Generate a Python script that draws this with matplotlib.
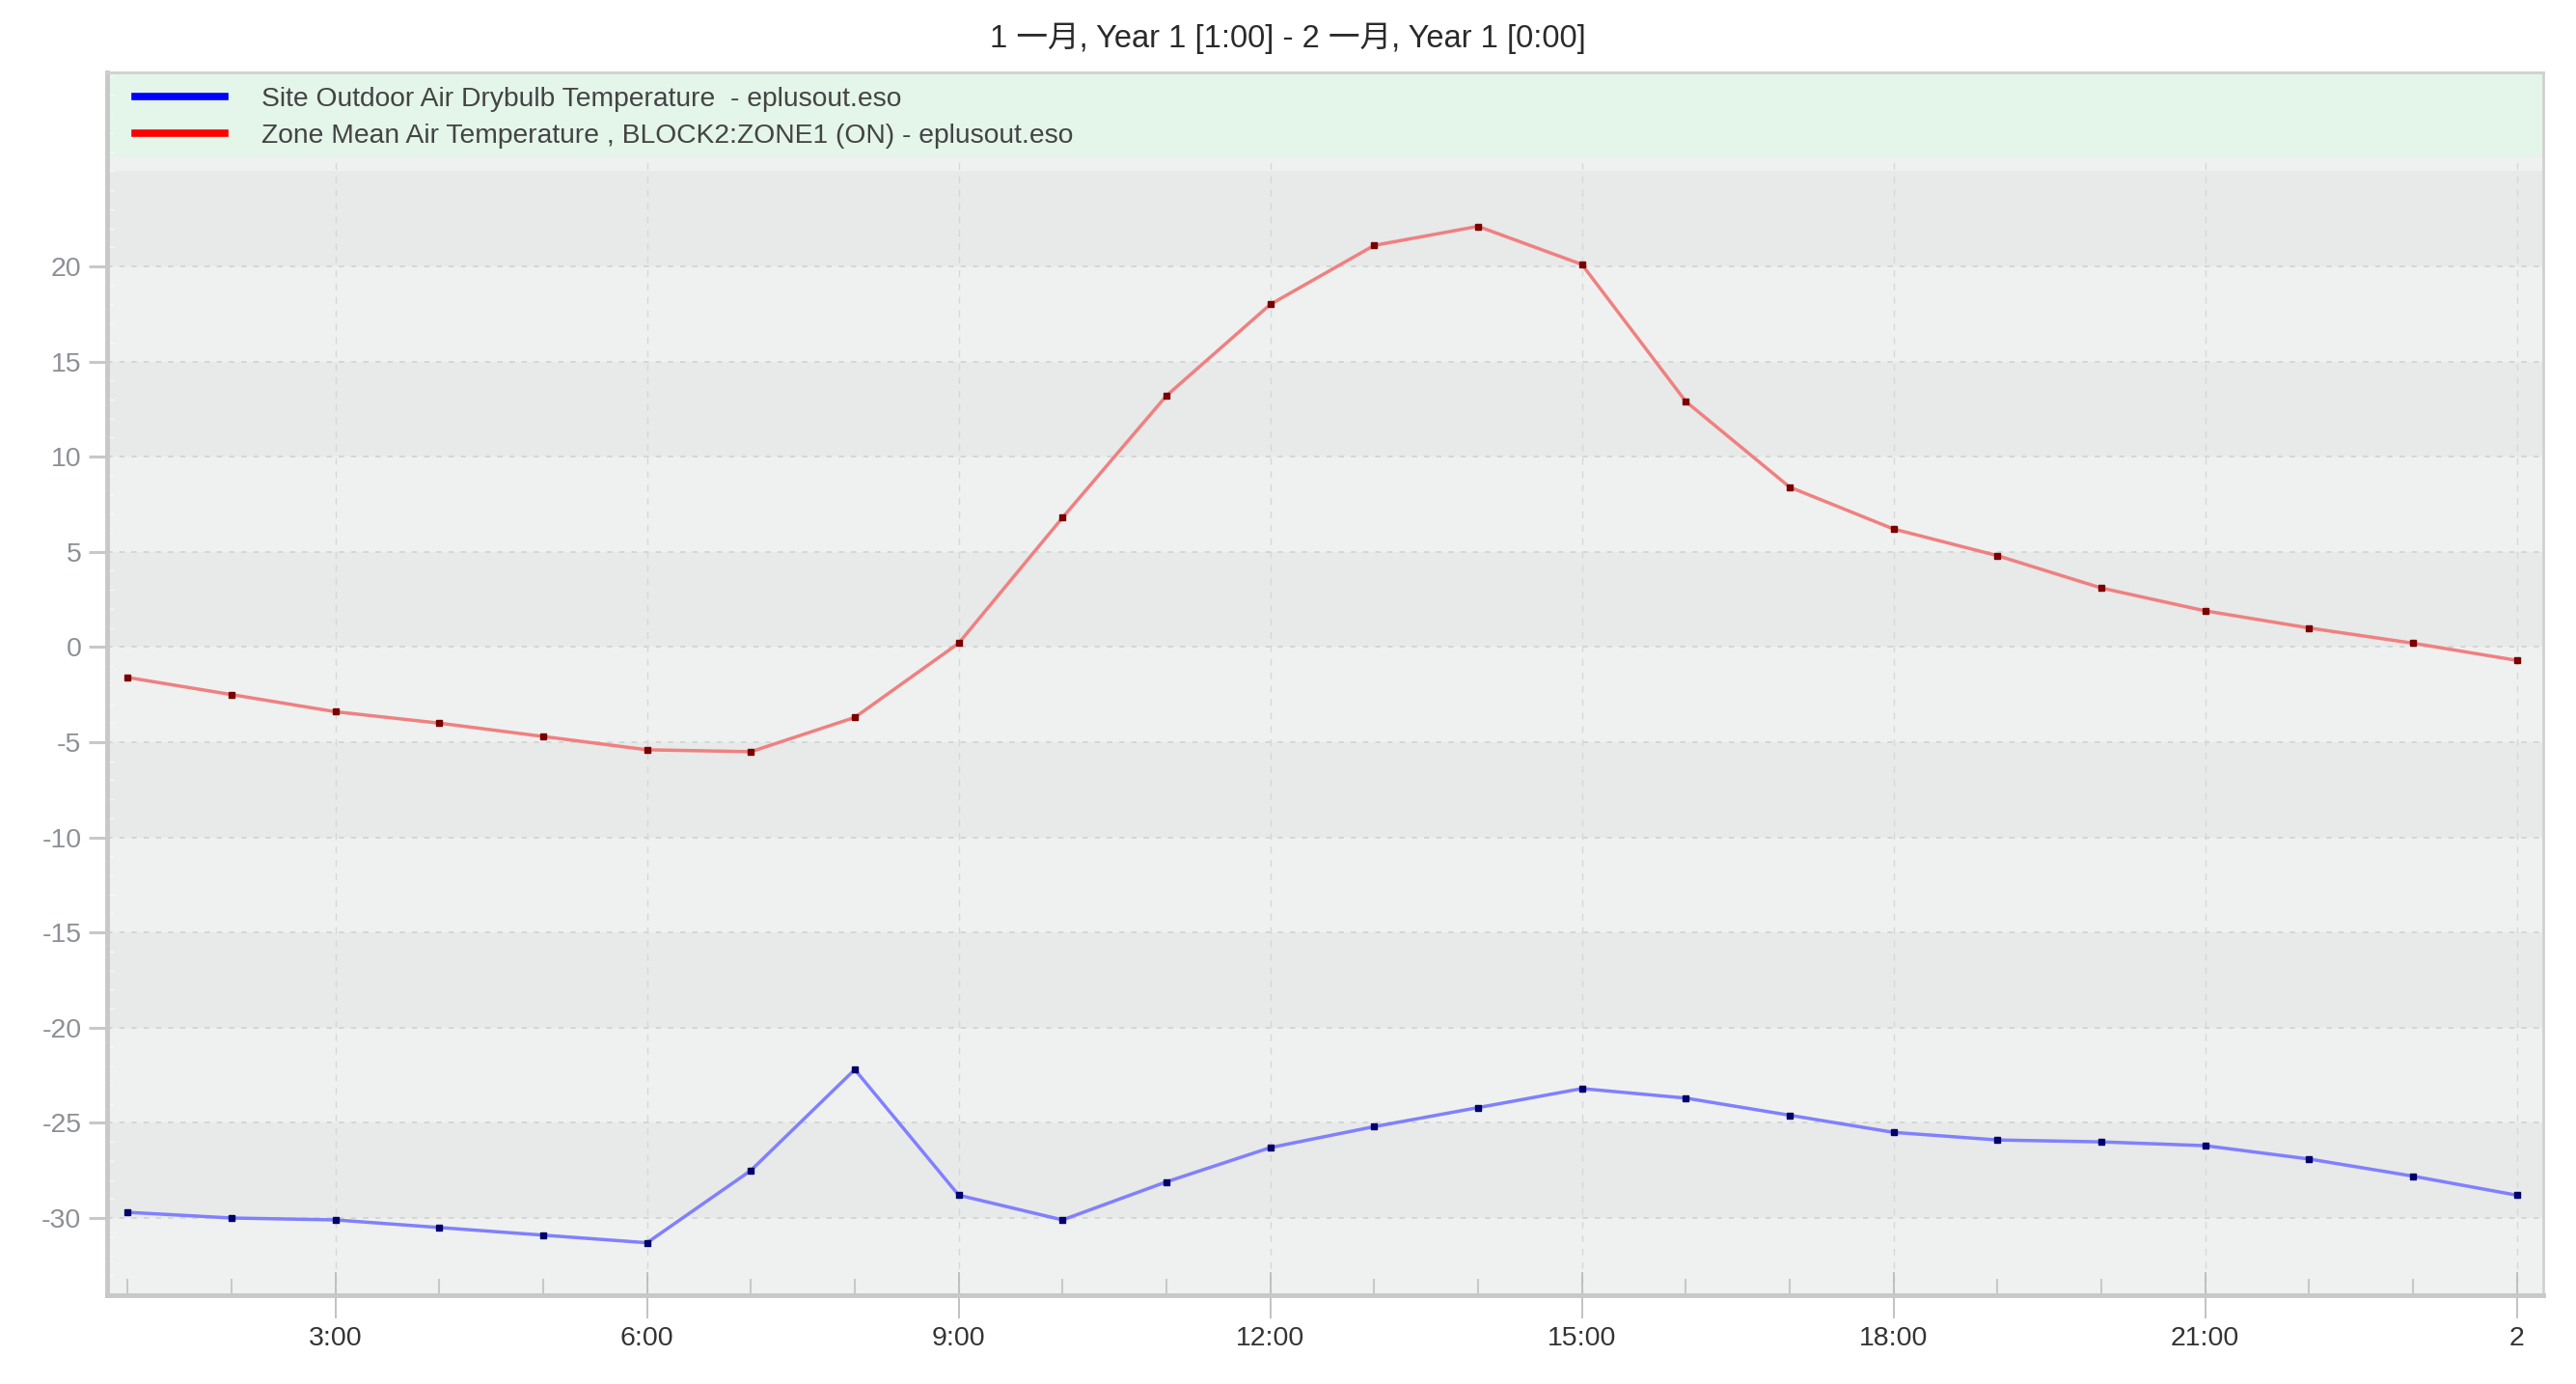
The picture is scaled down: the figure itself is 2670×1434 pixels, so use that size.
import matplotlib
matplotlib.use("Agg")
import matplotlib.pyplot as plt
from matplotlib.lines import Line2D
from matplotlib.ticker import MultipleLocator, FixedLocator

# hours 1..24 (24 == midnight of day 2)
hours = list(range(1, 25))
outdoor_temp = [-29.7, -30.0, -30.1, -30.5, -30.9, -31.3, -27.5, -22.2, -28.8, -30.1,
                -28.1, -26.3, -25.2, -24.2, -23.2, -23.7, -24.6, -25.5, -25.9, -26.0,
                -26.2, -26.9, -27.8, -28.8]
zone_temp = [-1.6, -2.5, -3.4, -4.0, -4.7, -5.4, -5.5, -3.7, 0.2, 6.8,
             13.2, 18.0, 21.1, 22.1, 20.1, 12.9, 8.4, 6.2, 4.8, 3.1,
             1.9, 1.0, 0.2, -0.7]
x_ticks = [3, 6, 9, 12, 15, 18, 21, 24]
x_labels = ["3:00", "6:00", "9:00", "12:00", "15:00", "18:00", "21:00", "2"]
y_ticks = [-30, -25, -20, -15, -10, -5, 0, 5, 10, 15, 20]
labels = ["Site Outdoor Air Drybulb Temperature  - eplusout.eso",
          "Zone Mean Air Temperature , BLOCK2:ZONE1 (ON) - eplusout.eso"]
title = "1 一月, Year 1 [1:00] - 2 一月, Year 1 [0:00]"

FONT = ["Liberation Sans Narrow", "Liberation Sans", "Noto Sans CJK SC"]
plt.rcParams["font.family"] = FONT

fig = plt.figure(figsize=(26.7, 14.34), dpi=100)
ax = fig.add_axes([0.0415, 0.0641, 0.9456, 0.8836])

y_lo, y_hi = -34.06, 30.19
legend_bottom = 25.8
ax.set_xlim(0.80, 24.25)
ax.set_ylim(y_lo, y_hi)

# alternating background bands
for k in range(-7, 5):
    color = "#e8e9e9" if k % 2 == 0 else "#eff1f0"
    ax.axhspan(k * 5, k * 5 + 5, color=color, lw=0, zorder=0)
ax.axhspan(25, legend_bottom, color="#eff1f0", lw=0, zorder=0)
ax.axhspan(legend_bottom, y_hi, color="#e4f5ea", lw=0, zorder=0)

# grid
for y in y_ticks:
    ax.axhline(y, color="#d2d4d4", lw=1.3, ls=(0, (3, 4)), zorder=1)
for x in x_ticks:
    ax.plot([x, x], [y_lo, legend_bottom], color="#d6d8d8", lw=1.0,
            ls=(0, (5, 5)), zorder=1)

ax.plot(hours, outdoor_temp, color="#8080ff", lw=2.5, zorder=3,
        marker="s", markersize=5, markerfacecolor="#00006a",
        markeredgecolor="#00006a")
ax.plot(hours, zone_temp, color="#f08080", lw=2.5, zorder=3,
        marker="s", markersize=5, markerfacecolor="#7a0000",
        markeredgecolor="#7a0000")

handles = [Line2D([], [], color="#0000ff", lw=5.5), Line2D([], [], color="#ff0000", lw=5.5)]
leg = ax.legend(handles, labels, loc="upper left", bbox_to_anchor=(0.0115, 0.988),
                frameon=False, fontsize=20.3, handlelength=3.3, handletextpad=1.35,
                labelspacing=0.42, borderaxespad=0, borderpad=0)
for t in leg.get_texts():
    t.set_color("#444444")

ax.set_yticks(y_ticks)
ax.set_yticklabels([str(v) for v in y_ticks], fontsize=20.5, color="#8c9096")
ax.yaxis.set_minor_locator(MultipleLocator(1))
ax.tick_params(axis="y", which="major", direction="out", length=14, width=2.2,
               color="#c8c8c8", pad=5)
ax.tick_params(axis="y", which="minor", direction="in", length=5, width=1,
               color="#f6f7f7")

ax.xaxis.set_major_locator(FixedLocator(x_ticks))
ax.set_xticklabels(x_labels, fontsize=20.5, color="#333333")
ax.xaxis.set_minor_locator(FixedLocator([h for h in hours if h not in x_ticks]))
ax.tick_params(axis="x", which="major", direction="inout", length=34, width=1.2,
               color="#b8b8b8", pad=6)
ax.tick_params(axis="x", which="minor", direction="in", length=12, width=1.5,
               color="#c8c8c8")

for side in ("left", "bottom"):
    ax.spines[side].set_color("#c8c8c8")
    ax.spines[side].set_linewidth(3.5)
for side in ("top", "right"):
    ax.spines[side].set_color("#d0d0d0")
    ax.spines[side].set_linewidth(2)

fig.text(0.5, 0.972, title, ha="center", va="center", fontsize=23.5,
         color="#2a2a2a")

fig.savefig("out.png", dpi=100)
